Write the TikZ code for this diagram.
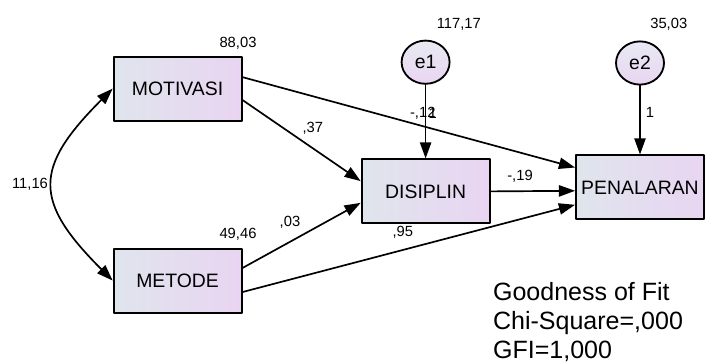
\documentclass[tikz,border=0pt]{standalone}
\usepackage{fontspec}
\setmainfont{Liberation Sans}
\usepackage{tikz}
\usetikzlibrary{calc}
\usetikzlibrary{arrows.meta}
\usetikzlibrary{shapes.geometric}
\definecolor{dfe5ec}{rgb}{0.875,0.898,0.925}
\definecolor{e9d5f2}{rgb}{0.914,0.835,0.949}
\definecolor{e8eaf2}{rgb}{0.91,0.918,0.949}
\tikzstyle{every node}=[font=\fontsize{10.5}{12}\selectfont]
\tikzstyle{variabel}=[draw,line width=1.3pt,minimum width=3.2cm,minimum height=1.6cm,left color=dfe5ec,right color=e9d5f2,font=\fontsize{13.8}{16}\selectfont]
\tikzstyle{galat}=[ellipse,draw,line width=1.3pt,minimum width=1.2cm,minimum height=1.08cm,inner sep=0pt,top color=e8eaf2,bottom color=e9d5f2,font=\fontsize{13.8}{16}\selectfont]
\tikzstyle{jalur}=[line width=1.2pt,->]
\tikzstyle{nilai}=[inner sep=0pt]

\begin{document}
\begin{tikzpicture}[line cap=round,line join=round,>={Triangle[length=11.5pt,width=8pt]},x=1.0cm,y=1.0cm]
            \useasboundingbox (0,0) rectangle (17.625,9.075);
            % variabel teramati
            \node[variabel] (MOTIVASI) at (4.44,6.86) {MOTIVASI};
            \node[variabel] (METODE) at (4.44,2.06) {METODE};
            \node[variabel] (DISIPLIN) at (10.64,4.29) {DISIPLIN};
            \node[variabel] (PENALARAN) at (16.0,4.39) {PENALARAN};
            % galat
            \node[galat] (e1) at (10.64,7.52) {e1};
            \node[galat] (e2) at (16.0,7.5) {e2};
            % jalur
            \draw [jalur,<->] (MOTIVASI.west) to[out=225,in=135,looseness=1.5] (METODE.west);
            \draw [jalur] (MOTIVASI.-10) -- (DISIPLIN.171);
            \draw [jalur] (MOTIVASI.10) -- (PENALARAN.163);
            \draw [jalur] (METODE.11) -- (DISIPLIN.190);
            \draw [jalur] (METODE.-10) -- (PENALARAN.195);
            \draw [jalur] (DISIPLIN.east) -- (PENALARAN.183);
            \draw [jalur] (e1.south) -- (DISIPLIN.north);
            \draw [jalur] (e2.south) -- (PENALARAN.north);
            % estimasi
            \node[nilai] (vMOTIVASI) at (5.95,8.0) {88,03};
            \node[nilai] (vMETODE) at (5.95,3.22) {49,46};
            \node[nilai] (ve1) at (11.47,8.47) {117,17};
            \node[nilai] (ve2) at (16.72,8.47) {35,03};
            \node[nilai] (kov) at (0.75,4.47) {11,16};
            \node[nilai] (b1) at (7.82,5.87) {,37};
            \node[nilai] (b2) at (10.57,6.25) {-,12};
            \node[nilai] (b3) at (10.82,6.25) {1};
            \node[nilai] (b4) at (16.25,6.27) {1};
            \node[nilai] (b5) at (13.0,4.67) {-,19};
            \node[nilai] (b6) at (7.25,3.52) {,03};
            \node[nilai] (b7) at (10.07,3.27) {,95};
            % kecocokan model
            \node[inner sep=0pt,anchor=north west,align=left,font=\fontsize{17.8}{20.6}\selectfont] (fit) at (12.32,2.03) {Goodness of Fit\\Chi-Square=,000\\GFI=1,000};
\end{tikzpicture}
\end{document}
